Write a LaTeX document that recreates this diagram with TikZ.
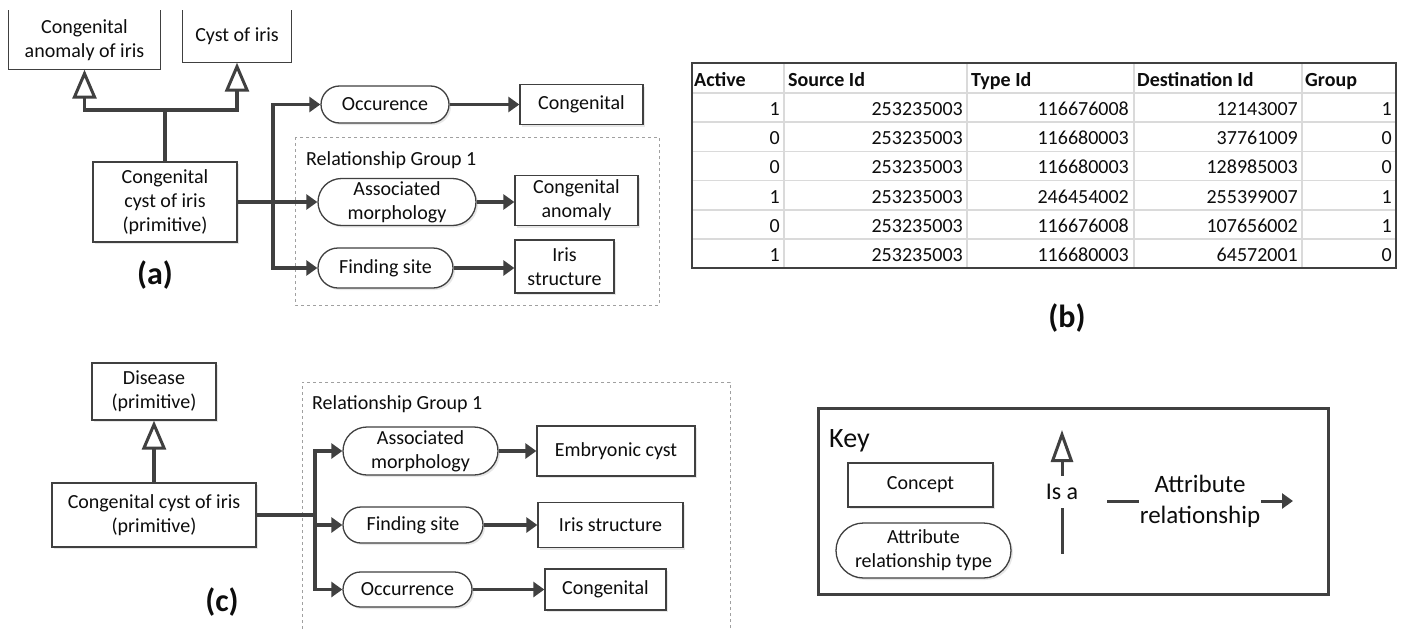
\documentclass[tikz,border=0pt]{standalone}
\usepackage{fontspec}
\setmainfont{Carlito}
\usetikzlibrary{arrows.meta,shadows}
\definecolor{linec}{HTML}{404040}
\definecolor{gridc}{HTML}{DADADA}
\definecolor{dashc}{HTML}{A0A0A0}
\definecolor{txtc}{HTML}{0D0D0D}
\begin{document}
\begin{tikzpicture}[x=1pt,y=-1pt,
  every node/.style={text=txtc},
  txt/.style={font=\fontsize{20}{24}\selectfont},
  box/.style={txt, align=center, inner sep=0pt, fill=white},
  concept/.style={box, draw=linec, line width=1.3pt, drop shadow={shadow xshift=2pt,shadow yshift=-2pt,fill=black!18}},
  pill/.style={concept, rounded corners=#1},
  pill/.default=18pt,
  conn/.style={draw=linec, line width=3.5pt},
  attr/.style={conn, -{Triangle[length=11pt,width=15pt]}},
  isa/.style={conn, line width=3.2pt, -{Triangle[open,fill=white,length=29pt,width=24pt,line width=3pt]}},
  grp/.style={draw=dashc, dashed, line width=0.8pt},
  lbl/.style={font=\fontsize{32}{38}\selectfont\bfseries},
  tabh/.style={font=\fontsize{20}{24}\selectfont\bfseries, inner sep=0pt, anchor=base west},
  tabd/.style={font=\fontsize{20}{24}\selectfont, inner sep=0pt, anchor=base east},
]
\fill[white] (0,0) rectangle (1404,629);
\useasboundingbox (0,0) rectangle (1404,629);

% ---------------- (a) ----------------
\node[box, minimum width=151pt, minimum height=59pt] (a1) at (84.5,40) {Congenital\\anomaly of iris};
\draw[linec, line width=1.3pt] (a1.north west) -- (a1.south west) -- (a1.south east) -- (a1.north east);
\node[box, minimum width=108pt, minimum height=52pt] (a2) at (237,36.5) {Cyst of iris};
\draw[linec, line width=1.3pt] (a2.north west) -- (a2.south west) -- (a2.south east) -- (a2.north east);
\node[concept, minimum width=144pt, minimum height=80pt] (a3) at (165,202) {Congenital\\cyst of iris\\(primitive)};

\draw[grp] (295,137) rectangle (659,305);
\node[txt, anchor=west, inner sep=0pt] (ga) at (306,160) {Relationship Group 1};

\node[pill=18.5pt, minimum width=128pt, minimum height=37pt] (occ) at (385,104.5) {Occurence};
\node[concept, minimum width=123pt, minimum height=40pt] (cong) at (581.5,104.5) {Congenital};
\node[pill=23.5pt, minimum width=158pt, minimum height=47pt] (assoc) at (397,202) {Associated\\morphology};
\node[concept, minimum width=123pt, minimum height=50pt] (anom) at (576.5,200.5) {Congenital\\anomaly};
\node[pill=20pt, minimum width=135pt, minimum height=40pt] (find) at (385.5,268) {Finding site};
\node[concept, minimum width=99pt, minimum height=53pt] (iris) at (564.5,266.5) {Iris\\structure};

\coordinate (ja) at (273,202);
\coordinate (jisa) at (165,110);
\draw[conn] (a3.east) -- (ja);
\draw[attr] (ja) |- (occ.west);
\draw[attr] (ja) -- (assoc.west);
\draw[attr] (ja) |- (find.west);
\draw[attr] (occ.east) -- (occ.east -| cong.west);
\draw[attr] (assoc.east) -- (assoc.east -| anom.west);
\draw[attr] (find.east) -- (find.east -| iris.west);

\draw[conn, line width=3.2pt] (a3.north) -- (jisa);
\draw[isa] (jisa) -| (a1.south);
\draw[isa] (jisa) -| (a2.south);

\node[lbl] (la) at (155,275) {(a)};

% ---------------- (b) ----------------
\foreach \x in {784,967,1134,1302} \draw[gridc, line width=1.5pt] (\x,63) -- (\x,268);
\foreach \y in {93,122.2,151.4,180.6,209.8,239} \draw[gridc, line width=1.5pt] (692,\y) -- (1396,\y);
\draw[linec, line width=2pt] (692,63) rectangle (1396,268);
\node[tabh] (h1) at (694,86) {Active};
\node[tabh] (h2) at (788,86) {Source Id};
\node[tabh] (h3) at (971,86) {Type Id};
\node[tabh] (h4) at (1137,86) {Destination Id};
\node[tabh] (h5) at (1305,86) {Group};
\foreach \a/\s/\t/\d/\g [count=\r] in {
  1/253235003/116676008/12143007/1,
  0/253235003/116680003/37761009/0,
  0/253235003/116680003/128985003/0,
  1/253235003/246454002/255399007/1,
  0/253235003/116676008/107656002/1,
  1/253235003/116680003/64572001/0}{
  \pgfmathsetmacro{\yy}{115.5+29.2*(\r-1)}
  \node[tabd] (d\r a) at (780,\yy) {\a};
  \node[tabd] (d\r s) at (963,\yy) {\s};
  \node[tabd] (d\r t) at (1129,\yy) {\t};
  \node[tabd] (d\r d) at (1298,\yy) {\d};
  \node[tabd] (d\r g) at (1392,\yy) {\g};
}
\node[lbl] (lb) at (1067,318) {(b)};

% ---------------- (c) ----------------
\node[concept, minimum width=124pt, minimum height=57pt] (dis) at (154,391.5) {Disease\\(primitive)};
\node[concept, minimum width=204pt, minimum height=64pt] (c1) at (154,515) {Congenital cyst of iris\\(primitive)};
\draw[isa] (c1.north) -- (dis.south);

\draw[grp] (730,640) -- (730,382) -- (302,382) -- (302,640);
\node[txt, anchor=west, inner sep=0pt] (gc) at (312,404) {Relationship Group 1};

\node[pill=24pt, minimum width=155pt, minimum height=48pt] (assoc2) at (420.5,451) {Associated\\morphology};
\node[concept, minimum width=158pt, minimum height=50pt] (emb) at (616,451) {Embryonic cyst};
\node[pill=18pt, minimum width=140pt, minimum height=36pt] (find2) at (413,525) {Finding site};
\node[concept, minimum width=145pt, minimum height=45pt] (iris2) at (610.5,525) {Iris structure};
\node[pill=17.5pt, minimum width=129pt, minimum height=35pt] (occ2) at (407.5,589.5) {Occurrence};
\node[concept, minimum width=121pt, minimum height=41pt] (cong2) at (605.5,589.5) {Congenital};

\coordinate (jc) at (315,515);
\draw[conn] (c1.east) -- (jc);
\draw[attr] (jc) |- (assoc2.west);
\draw[attr] (jc) |- (find2.west);
\draw[attr] (jc) |- (occ2.west);
\draw[attr] (assoc2.east) -- (assoc2.east -| emb.west);
\draw[attr] (find2.east) -- (find2.east -| iris2.west);
\draw[attr] (occ2.east) -- (occ2.east -| cong2.west);

\node[lbl] (lc) at (222,602) {(c)};

% ---------------- Key ----------------
\node[draw=linec, line width=3pt, fill=white, minimum width=510pt, minimum height=186pt, inner sep=0pt,
  drop shadow={shadow xshift=2pt,shadow yshift=-2pt,fill=black!15}] (keybox) at (1073,501) {};
\node[font=\fontsize{28}{34}\selectfont, anchor=base west, inner sep=0pt] (keyt) at (829,447) {Key};
\node[concept, minimum width=145pt, minimum height=44pt] (kc) at (920.5,485) {Concept};
\node[pill=27.5pt, minimum width=175pt, minimum height=55pt] (kp) at (923.5,550.5) {Attribute\\relationship type};
\node[font=\fontsize{24}{29}\selectfont, inner sep=0pt, minimum height=32pt] (isat) at (1062,492) {Is a};
\coordinate (isatip) at (1062,430);
\coordinate (isabot) at (1062,554);
\draw[isa, line width=3pt, -{Triangle[open,fill=white,length=32pt,width=22pt,line width=3pt]}] (isat.north) -- (isatip);
\draw[conn, line width=3pt] (isat.south) -- (isabot);
\node[font=\fontsize{25}{31}\selectfont, align=center, inner xsep=1pt, inner ysep=0pt] (attrt) at (1200,501) {Attribute\\relationship};
\coordinate (dl) at (1107,501);
\coordinate (dr) at (1293,501);
\draw[conn, line width=3pt] (dl) -- (attrt.west);
\draw[attr, line width=3pt] (attrt.east) -- (dr);
\end{tikzpicture}
\end{document}
